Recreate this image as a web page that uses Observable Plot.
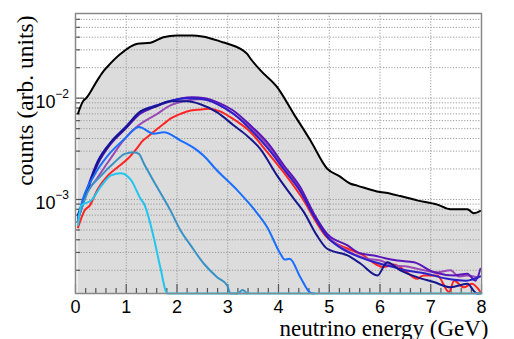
<!DOCTYPE html>
<html><head><meta charset="utf-8">
<script src="https://cdn.jsdelivr.net/npm/d3@7"></script>
<script src="https://cdn.jsdelivr.net/npm/@observablehq/plot@0.6"></script>
<style>body{margin:0;background:#fff}</style>
</head><body><div id="chart"></div>
<script>
// ---------- data ----------
const xTicks = [0, 1, 2, 3, 4, 5, 6, 7, 8];
const xMinorTicks = [0.2,0.4,0.6,0.8,1.2,1.4,1.6,1.8,2.2,2.4,2.6,2.8,3.2,3.4,3.6,3.8,4.2,4.4,4.6,4.8,5.2,5.4,5.6,5.8,6.2,6.4,6.6,6.8,7.2,7.4,7.6,7.8];
const yMajorTicks = [1e-3, 1e-2];
const yMajorBase = ["10", "10"];
const yMajorExp = ["\u22123", "\u22122"];
const yMinorTicks = [2e-4,3e-4,4e-4,5e-4,6e-4,7e-4,8e-4,9e-4,2e-3,3e-3,4e-3,5e-3,6e-3,7e-3,8e-3,9e-3,2e-2,3e-2,4e-2,5e-2,6e-2];
const yMin = 1.18e-4, yMax = 0.0685;
const xTitle = "neutrino energy (GeV)";
const yTitle = "counts (arb. units)";

const totalE = [0.05,0.16,0.2,0.43,0.56,0.62,0.89,1.22,1.48,1.73,2.0,2.3,2.5,2.9,3.0,3.38,3.45,3.65,3.97,4.3,4.63,4.96,5.2,5.42,5.55,5.94,6.21,6.4,6.73,7.13,7.39,7.72,7.85,7.98];
const totalN = [7.06e-3,9.5e-3,9.86e-3,1.5e-2,1.87e-2,2.02e-2,2.74e-2,3.44e-2,3.53e-2,4.0e-2,4.16e-2,4.16e-2,4.07e-2,3.57e-2,3.44e-2,2.74e-2,2.45e-2,1.87e-2,1.29e-2,7.0e-3,3.82e-3,2.01e-3,1.70e-3,1.43e-3,1.37e-3,1.2e-3,1.14e-3,1.08e-3,9.8e-4,8.9e-4,8.0e-4,8.0e-4,7.3e-4,7.7e-4];

const redE = [0.05,0.18,0.28,0.44,0.64,0.83,1.03,1.2,1.33,1.41,1.74,1.87,2.07,2.27,2.4,2.62,2.85,3.05,3.45,3.78,4.1,4.43,4.96,5.35,5.62,6.07,6.27,6.47,6.73,6.86,7.13,7.36,7.46,7.65,7.81,7.98];
const redN = [5.3e-4,7.8e-4,8.7e-4,1.27e-3,1.73e-3,2.08e-3,2.52e-3,3.16e-3,3.82e-3,4.12e-3,5.58e-3,6.27e-3,7.0e-3,7.57e-3,7.67e-3,7.85e-3,7.4e-3,6.49e-3,4.61e-3,2.93e-3,1.86e-3,1.1e-3,4.2e-4,3.3e-4,2.9e-4,2.15e-4,2.28e-4,2.02e-4,1.65e-4,1.78e-4,1.78e-4,1.22e-4,1.58e-4,1.36e-4,1.47e-4,1.22e-4];

const purpleE = [0.05,0.18,0.37,0.64,0.97,1.2,1.61,1.87,2.2,2.45,2.7,3.0,3.45,3.8,4.1,4.43,4.7,4.96,5.29,5.75,6.0,6.27,6.5,6.73,7.13,7.39,7.55,7.72,7.91];
const purpleN = [6.3e-4,1.1e-3,1.48e-3,2.33e-3,3.97e-3,5.18e-3,7.0e-3,8.47e-3,9.5e-3,9.77e-3,9.3e-3,7.6e-3,5.18e-3,3.39e-3,2.08e-3,1.27e-3,7.1e-4,4.42e-4,3.26e-4,2.6e-4,2.5e-4,2.23e-4,2.19e-4,2.07e-4,1.91e-4,2.0e-4,1.74e-4,1.78e-4,1.71e-4];

const indigoE = [0.05,0.24,0.44,0.7,0.97,1.29,1.54,1.87,2.1,2.3,2.55,2.8,3.1,3.45,3.8,4.1,4.43,4.7,4.96,5.36,5.6,5.88,6.1,6.34,6.67,7.06,7.46,7.72,7.88,7.98];
const indigoN = [6.3e-4,1.26e-3,2.24e-3,3.55e-3,4.9e-3,7.1e-3,8.1e-3,9.3e-3,1.0e-2,1.02e-2,1.0e-2,9.1e-3,7.6e-3,5.37e-3,3.55e-3,2.19e-3,1.32e-3,7.2e-4,4.58e-4,3.52e-4,2.95e-4,2.8e-4,2.63e-4,2.5e-4,2.4e-4,1.91e-4,1.78e-4,1.85e-4,1.58e-4,2.07e-4];

const violetE = [0.05,0.24,0.44,0.7,0.97,1.29,1.6,1.9,2.2,2.5,2.8,3.1,3.45,3.8,4.1,4.43,4.7,4.96,5.3,5.6,5.9,6.2,6.5,6.9,7.3,7.7,7.98];
const violetN = [6.6e-4,1.32e-3,2.4e-3,3.7e-3,5.1e-3,7.4e-3,8.5e-3,9.5e-3,1.0e-2,9.8e-3,8.7e-3,7.1e-3,4.9e-3,3.16e-3,2.0e-3,1.2e-3,6.8e-4,4.27e-4,3.16e-4,2.7e-4,2.4e-4,2.19e-4,2.0e-4,1.86e-4,1.66e-4,1.58e-4,1.74e-4];

const navyE = [0.05,0.24,0.44,0.7,0.97,1.28,1.54,1.87,2.2,2.46,2.8,3.12,3.4,3.64,3.97,4.3,4.5,4.75,4.96,5.36,5.62,5.95,6.14,6.4,6.73,7.06,7.39,7.72,7.91,7.98];
const navyN = [7.1e-4,1.27e-3,2.33e-3,3.68e-3,4.99e-3,7.4e-3,8.15e-3,9.3e-3,9.3e-3,8.7e-3,7.2e-3,5.37e-3,4.17e-3,3.16e-3,1.73e-3,1.02e-3,7.5e-4,4.47e-4,3.26e-4,2.8e-4,2.32e-4,1.78e-4,2.4e-4,2.0e-4,1.71e-4,1.53e-4,1.36e-4,1.47e-4,1.18e-4,1.18e-4];

const blueE = [0.05,0.11,0.37,0.64,0.97,1.25,1.54,1.74,2.07,2.4,2.59,2.73,3.19,3.51,3.78,4.04,4.12,4.22,4.43,4.63,4.7];
const blueN = [6.3e-4,8.7e-4,1.73e-3,2.72e-3,3.98e-3,5.18e-3,4.46e-3,4.61e-3,3.82e-3,3.05e-3,2.51e-3,2.08e-3,1.23e-3,8.1e-4,5.3e-4,2.9e-4,2.55e-4,2.6e-4,1.71e-4,1.2e-4,1.18e-4];

const steelE = [0.05,0.24,0.51,0.77,0.97,1.15,1.25,1.35,1.61,1.87,2.07,2.27,2.53,2.79,2.99,3.05,3.2,3.29,3.38];
const steelN = [6.3e-4,1.18e-3,1.73e-3,2.33e-3,2.82e-3,2.93e-3,2.82e-3,2.25e-3,1.32e-3,7.8e-4,4.94e-4,3.52e-4,2.32e-4,1.71e-4,1.42e-4,1.18e-4,1.18e-4,1.28e-4,1.18e-4];

const cyanE = [0.05,0.11,0.31,0.51,0.7,0.9,1.1,1.29,1.35,1.54,1.67,1.81,1.9,8.0];
const cyanN = [5.6e-4,8.7e-4,9.8e-4,1.37e-3,1.73e-3,1.82e-3,1.54e-3,1.0e-3,9.06e-4,4.25e-4,2.15e-4,1.18e-4,1.18e-4,1.18e-4];

const seriesNames = ["total","red","purple","indigo","violet","navy","blue","steel","cyan"];
const seriesColors = ["#000000","#ff2424","#9a4ab6","#5a16b6","#2c1ec8","#16168e","#1a6eff","#3a92c4","#1ec6f0"];
const seriesE = [totalE, redE, purpleE, indigoE, violetE, navyE, blueE, steelE, cyanE];
const seriesN = [totalN, redN, purpleN, indigoN, violetN, navyN, blueN, steelN, cyanN];

// ---------- build ----------
const rows = seriesE.map((E, s) => E.map((e, i) => ({E: e, N: seriesN[s][i]})));
const totalRows = rows[0];
const serif = "Liberation Serif, Times New Roman, serif";
const fh = 339 - 13 - 46, fw = 514 - 75 - 33;

const lineMarks = rows.map((r, s) =>
  Plot.line(r, {x: "E", y: "N", stroke: seriesColors[s], strokeWidth: 2, curve: "monotone-x"}));

const chart = Plot.plot({
  width: 514, height: 339,
  marginLeft: 75, marginRight: 33, marginTop: 13, marginBottom: 46,
  x: {domain: [0, 8]},
  y: {type: "log", domain: [yMin, yMax], axis: null},
  style: {fontFamily: "Liberation Sans, Arial, sans-serif", fontSize: "18px", color: "#000", background: "#fff"},
  marks: [
    Plot.areaY(totalRows, {x: "E", y1: yMin, y2: "N", fill: "#dcdcdc", curve: "monotone-x"}),
    Plot.ruleX(xTicks.slice(1, -1), {stroke: "#9a9a9a", strokeWidth: 1, strokeDasharray: "1.2,1.6"}),
    Plot.ruleY(yMinorTicks.concat(yMajorTicks), {stroke: "#9a9a9a", strokeWidth: 1, strokeDasharray: "1.2,1.6"}),
    Plot.tickX(xTicks, {x: d => d, insetTop: fh - 9, stroke: "#555", strokeWidth: 1.2}),
    Plot.tickX(xMinorTicks, {x: d => d, insetTop: fh - 5, stroke: "#555", strokeWidth: 1.2}),
    Plot.tickY(yMajorTicks, {y: d => d, insetRight: fw - 9, stroke: "#555", strokeWidth: 1.2}),
    Plot.tickY(yMinorTicks, {y: d => d, insetRight: fw - 5, stroke: "#555", strokeWidth: 1.2}),
    ...lineMarks,
    Plot.frame({stroke: "#888", strokeWidth: 1.5}),
    Plot.axisX({ticks: xTicks, tickFormat: d => String(d), tickSize: 0, tickPadding: 7, label: null, fontSize: 18}),
    Plot.text(yMajorTicks, {y: d => d, frameAnchor: "left", text: d => yMajorBase[yMajorTicks.indexOf(d)], dx: -20, dy: 4, fontSize: 18, textAnchor: "end"}),
    Plot.text(yMajorTicks, {y: d => d, frameAnchor: "left", text: d => yMajorExp[yMajorTicks.indexOf(d)], dx: -13.5, dy: -4, fontSize: 12, textAnchor: "middle"}),
    Plot.text([xTitle], {frameAnchor: "bottom-right", text: d => d, textAnchor: "end", lineAnchor: "bottom", dx: 7, dy: 42, fontSize: 23, fontFamily: serif}),
    Plot.text([yTitle], {frameAnchor: "top-left", text: d => d, rotate: -90, textAnchor: "end", lineAnchor: "bottom", dx: -43, dy: 2, fontSize: 23.5, fontFamily: serif})
  ]
});
document.getElementById("chart").appendChild(chart);
</script></body></html>
